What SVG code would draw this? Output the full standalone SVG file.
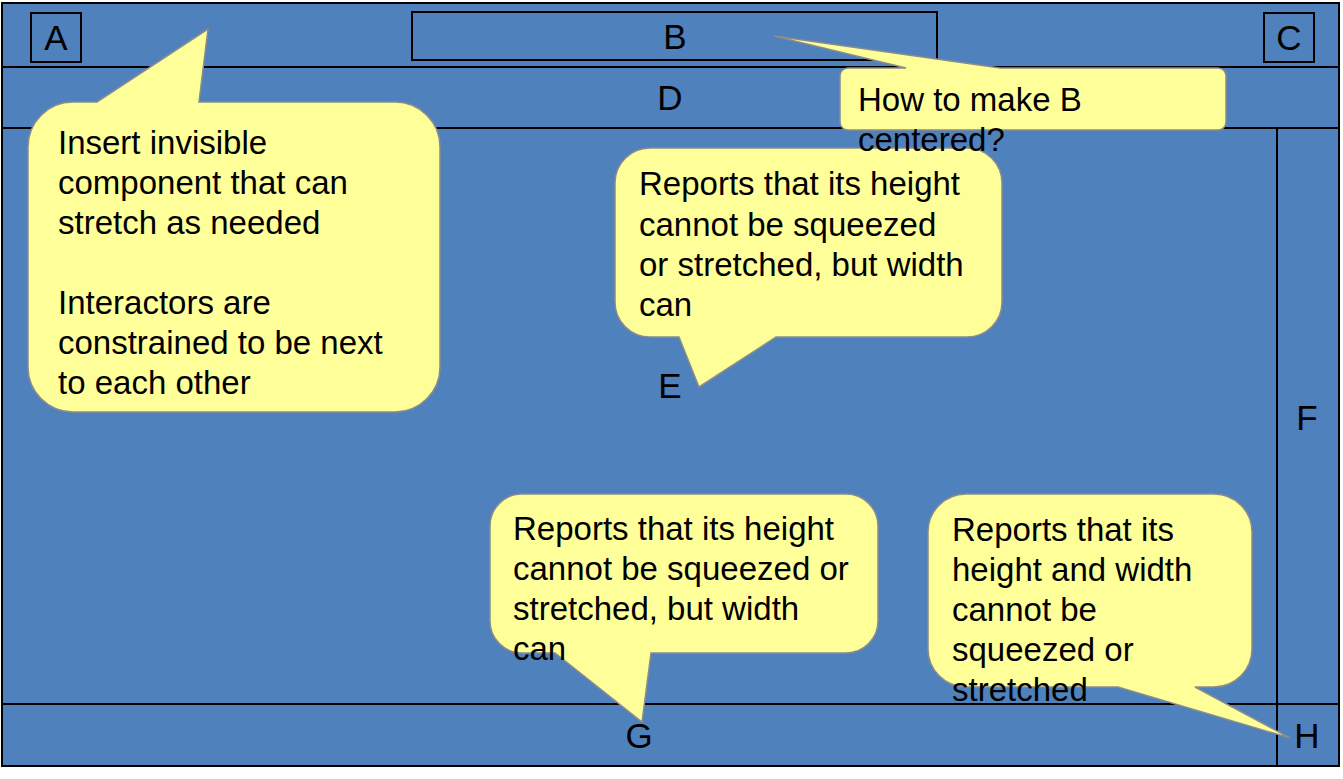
<svg xmlns="http://www.w3.org/2000/svg" width="1343" height="779" viewBox="0 0 1343 779">
<style>
.frame{fill:none;stroke:#000;stroke-width:2}
.lbl{font-family:"Liberation Sans",Arial,sans-serif;font-size:35px;fill:#000;text-anchor:middle}
.bub{fill:#FFFF99;stroke:#8C8C8C;stroke-width:1.5}
.t{font-family:"Liberation Sans",Arial,sans-serif;font-size:33px;fill:#000}
</style>
<rect x="0" y="0" width="1343" height="779" fill="#fff"/>
<g id="layout">
<rect x="2" y="3" width="1337" height="763" fill="#4F81BD" stroke="#000" stroke-width="2"/>
<line class="frame" x1="2" y1="67" x2="1339" y2="67"/>
<line class="frame" x1="2" y1="128" x2="1339" y2="128"/>
<line class="frame" x1="2" y1="704" x2="1339" y2="704"/>
<line class="frame" x1="1277" y1="128" x2="1277" y2="766"/>
</g>
<g id="A"><rect class="frame" x="31" y="13" width="50" height="49"/><text class="lbl" x="56" y="50">A</text></g>
<g id="B"><rect class="frame" x="412" y="12" width="525" height="48"/><text class="lbl" x="675" y="49">B</text></g>
<g id="C"><rect class="frame" x="1264" y="13" width="50" height="49"/><text class="lbl" x="1289" y="50">C</text></g>
<g id="D"><text class="lbl" x="670" y="110">D</text></g>
<g id="E"><text class="lbl" x="670" y="398">E</text></g>
<g id="F"><text class="lbl" x="1307" y="430">F</text></g>
<g id="G"><text class="lbl" x="639" y="748">G</text></g>
<g id="H"><text class="lbl" x="1307" y="748">H</text></g>
<g id="connectors">
<g id="callout-insert">
<path class="bub" d="M73,102 L97,102 L208,29 L199,102 L395,102 A45,45 0 0 1 440,147 L440,367 A45,45 0 0 1 395,412 L73,412 A45,45 0 0 1 28,367 L28,147 A45,45 0 0 1 73,102 Z"/>
<text class="t" x="58" y="154">Insert invisible</text>
<text class="t" x="58" y="194">component that can</text>
<text class="t" x="58" y="234">stretch as needed</text>
<text class="t" x="58" y="314">Interactors are</text>
<text class="t" x="58" y="354">constrained to be next</text>
<text class="t" x="58" y="394">to each other</text>
</g>
<g id="callout-E">
<path class="bub" d="M650,148 L967,148 A35,35 0 0 1 1002,183 L1002,302 A35,35 0 0 1 967,337 L776,337 L699,387 L679,337 L650,337 A35,35 0 0 1 615,302 L615,183 A35,35 0 0 1 650,148 Z"/>
<text class="t" x="639" y="195">Reports that its height</text>
<text class="t" x="639" y="236">cannot be squeezed</text>
<text class="t" x="639" y="276">or stretched, but width</text>
<text class="t" x="639" y="316">can</text>
</g>
<g id="callout-G">
<path class="bub" d="M522,494 L846,494 A32,32 0 0 1 878,526 L878,621 A32,32 0 0 1 846,653 L651,653 L642,722 L555,653 L522,653 A32,32 0 0 1 490,621 L490,526 A32,32 0 0 1 522,494 Z"/>
<text class="t" x="513" y="540">Reports that its height</text>
<text class="t" x="513" y="580">cannot be squeezed or</text>
<text class="t" x="513" y="620">stretched, but width</text>
<text class="t" x="513" y="660">can</text>
</g>
<g id="callout-H">
<path class="bub" d="M966,494 L1214,494 A38,38 0 0 1 1252,532 L1252,649 A38,38 0 0 1 1214,687 L1195,687 L1290,738 L1118,687 L966,687 A38,38 0 0 1 928,649 L928,532 A38,38 0 0 1 966,494 Z"/>
<text class="t" x="952" y="541">Reports that its</text>
<text class="t" x="952" y="581">height and width</text>
<text class="t" x="952" y="621">cannot be</text>
<text class="t" x="952" y="661">squeezed or</text>
<text class="t" x="952" y="701">stretched</text>
</g>
<g id="callout-B">
<path class="bub" d="M848,68 L906,68 L774,36 L1000,68 L1218,68 A8,8 0 0 1 1226,76 L1226,122 A8,8 0 0 1 1218,130 L848,130 A8,8 0 0 1 840,122 L840,76 A8,8 0 0 1 848,68 Z"/>
<text class="t" x="858" y="111">How to make B</text>
<text class="t" x="858" y="151">centered?</text>
</g>
</g>
</svg>
